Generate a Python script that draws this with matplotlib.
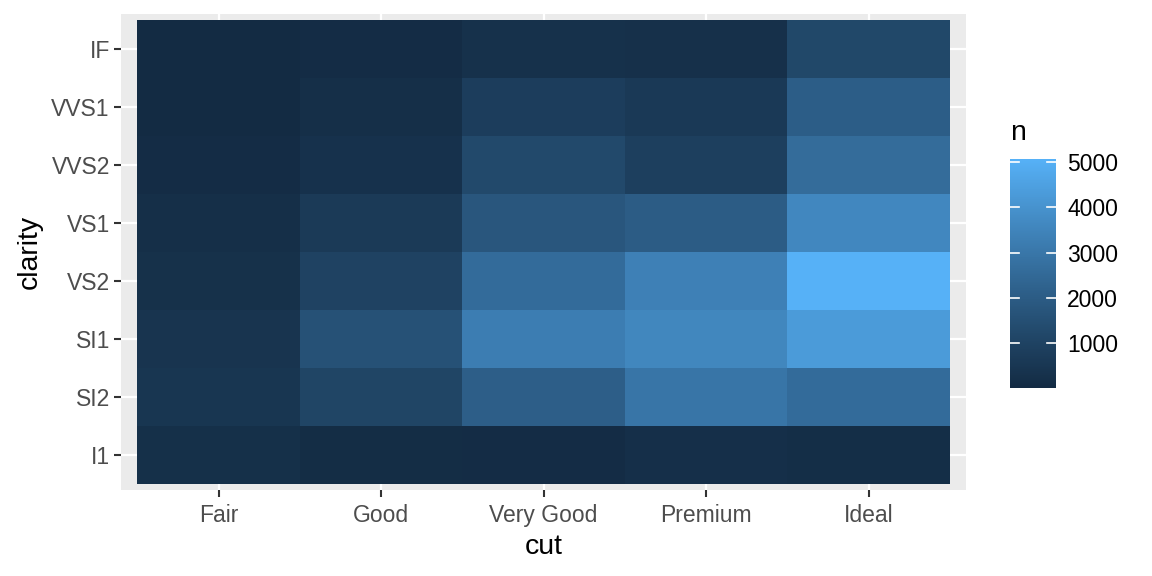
import numpy as np
import matplotlib
matplotlib.use("Agg")
import matplotlib.pyplot as plt
from matplotlib.colors import ListedColormap, Normalize
from matplotlib.cm import ScalarMappable

plt.rcParams['font.family'] = ['Liberation Sans', 'DejaVu Sans']

cuts = ["Fair", "Good", "Very Good", "Premium", "Ideal"]
clarity = ["I1", "SI2", "SI1", "VS2", "VS1", "VVS2", "VVS1", "IF"]
# counts per cut, in clarity order (I1 ... IF)
fair = [210, 466, 408, 261, 170, 69, 17, 9]
good = [96, 1081, 1560, 978, 648, 286, 186, 71]
very_good = [84, 2100, 3240, 2591, 1775, 1235, 789, 268]
premium = [205, 2949, 3575, 3357, 1989, 870, 616, 230]
ideal = [146, 2598, 4282, 5071, 3589, 2606, 2047, 1212]
cbar_breaks = [1000, 2000, 3000, 4000, 5000]

counts = np.array([fair, good, very_good, premium, ideal]).T  # rows = clarity


# ggplot-ish gradient, interpolated in Lab space
M = np.array([[0.4124564, 0.3575761, 0.1804375],
              [0.2126729, 0.7151522, 0.0721750],
              [0.0193339, 0.1191920, 0.9503041]])
WHITE = np.array([0.95047, 1.0, 1.08883])


def hex_to_lab(h):
    rgb = np.array([int(h[i:i + 2], 16) for i in (1, 3, 5)]) / 255
    lin = np.where(rgb <= 0.04045, rgb / 12.92, ((rgb + 0.055) / 1.055) ** 2.4)
    xyz = M @ lin / WHITE
    f = np.where(xyz > 0.008856, np.cbrt(xyz), 7.787 * xyz + 16 / 116)
    return np.array([116 * f[1] - 16, 500 * (f[0] - f[1]), 200 * (f[1] - f[2])])


def lab_to_rgb(lab):
    fy = (lab[..., 0] + 16) / 116
    fx = fy + lab[..., 1] / 500
    fz = fy - lab[..., 2] / 200
    f = np.stack([fx, fy, fz], axis=-1)
    xyz = np.where(f ** 3 > 0.008856, f ** 3, (f - 16 / 116) / 7.787) * WHITE
    lin = xyz @ np.linalg.inv(M).T
    lin = np.clip(lin, 0, 1)
    rgb = np.where(lin <= 0.0031308, 12.92 * lin, 1.055 * lin ** (1 / 2.4) - 0.055)
    return np.clip(rgb, 0, 1)


lo, hi = hex_to_lab("#132B43"), hex_to_lab("#56B1F7")
t = np.linspace(0, 1, 256)[:, None]
cmap = ListedColormap(lab_to_rgb(lo + t * (hi - lo)))
norm = Normalize(vmin=counts.min(), vmax=counts.max())

fig = plt.figure(figsize=(11.52, 5.76), dpi=100)
W, H = 1152, 576
ax = fig.add_axes([121 / W, 1 - 490 / H, (966 - 121) / W, (490 - 14) / H])
ax.set_facecolor("#EBEBEB")
for s in ax.spines.values():
    s.set_visible(False)

xs = np.arange(1, len(cuts) + 1)
ys = np.arange(1, len(clarity) + 1)
for x in xs:
    ax.axvline(x, color="white", lw=1.6, zorder=0)
for y in ys:
    ax.axhline(y, color="white", lw=1.6, zorder=0)

ax.pcolormesh(np.arange(0.5, len(cuts) + 1), np.arange(0.5, len(clarity) + 1),
              counts, cmap=cmap, norm=norm, zorder=1)
ax.set_xlim(0.4, len(cuts) + 0.6)
ax.set_ylim(0.4, len(clarity) + 0.6)
ax.set_xticks(xs, cuts)
ax.set_yticks(ys, clarity)
ax.tick_params(colors="#333333", labelcolor="#4D4D4D", labelsize=16.5, length=5, width=1.5)
ax.tick_params(axis="x", pad=5)
ax.tick_params(axis="y", pad=3)
ax.set_xlabel("cut", fontsize=20.5, labelpad=5)
ax.set_ylabel("clarity", fontsize=20.5, labelpad=6)

cax = fig.add_axes([1010 / W, 1 - 388 / H, 46 / W, (388 - 159) / H])
cb = fig.colorbar(ScalarMappable(norm=norm, cmap=cmap), cax=cax)
cb.outline.set_visible(False)
cb.set_ticks(cbar_breaks)
cax.tick_params(length=0, labelsize=16.5, pad=8, labelcolor="black")
tr = cax.get_yaxis_transform()
for b in cbar_breaks:
    cax.plot([0, 0.2], [b, b], color="white", lw=1.2, transform=tr)
    cax.plot([0.8, 1], [b, b], color="white", lw=1.2, transform=tr)
fig.text(1010 / W, 1 - 133 / H, "n", fontsize=20.5, ha="left", va="center")

fig.savefig("out.png", dpi=100)
